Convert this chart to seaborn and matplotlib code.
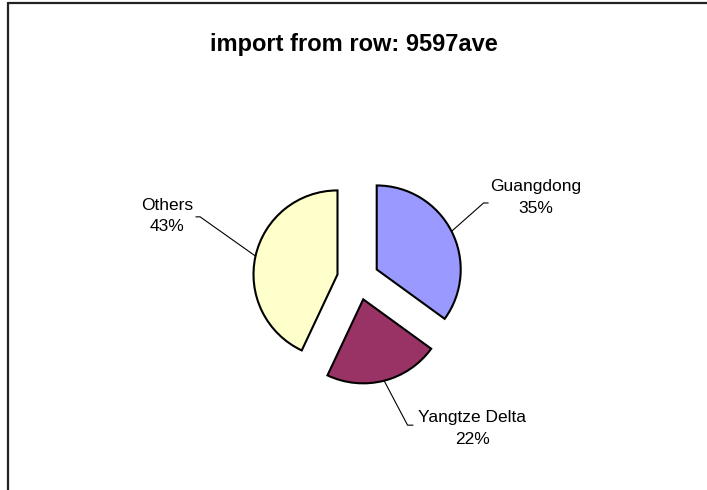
import matplotlib.pyplot as plt
import numpy as np
import seaborn as sns
from matplotlib.lines import Line2D

sns.set_theme(style="white")
plt.rcParams["font.family"] = ["Liberation Sans", "DejaVu Sans"]

# 数据
regions = ["Guangdong", "Yangtze Delta", "Others"]
shares = [35, 22, 43]
colors = ["#9999FF", "#993366", "#FFFFCC"]

# 标签位置 (以饼半径为单位) 与引线折点
label_pos = [(2.12, 0.97), (1.36, -1.78), (-2.27, 0.75)]
leader_end = [(1.55, 0.905), (0.655, -1.74), (-1.93, 0.74)]
elbow_dx = [-0.055, -0.065, 0.05]

fig = plt.figure(figsize=(7.07, 4.90), dpi=100)
ax = fig.add_axes([0, 0, 1, 1])

wedges, _ = ax.pie(
    shares,
    colors=colors,
    startangle=90,
    counterclock=False,
    explode=[0.25] * len(shares),
    wedgeprops={"edgecolor": "black", "linewidth": 1.5},
)

# 坐标: 半径 1 = 84 px, 圆心在 (358, 211) px
ax.set_aspect("auto")
ax.set_xlim(-358 / 84, (707 - 358) / 84)
ax.set_ylim(-211 / 84, (490 - 211) / 84)
ax.axis("off")

total = sum(shares)
for w, name, v, (tx, ty), (ex, ey), dx in zip(
    wedges, regions, shares, label_pos, leader_end, elbow_dx
):
    ang = np.deg2rad((w.theta1 + w.theta2) / 2)
    cx, cy = w.center
    px, py = cx + np.cos(ang), cy + np.sin(ang)
    ax.plot([px, ex + dx, ex], [py, ey, ey], color="black", lw=0.8,
            clip_on=False)
    ax.text(tx, ty, f"{name}\n{v / total * 100:.0f}%", ha="center",
            va="center", fontsize=12.5, linespacing=1.55, color="black")

fig.text(0.5, 1 - 45 / 490, "import from row: 9597ave", ha="center",
         va="center", fontsize=17, fontweight="bold", color="black")

# 外框 (左边和上边)
fig.add_artist(Line2D([8 / 707, 8 / 707], [0, 1 - 3 / 490], color="#222222",
                      lw=1.6, transform=fig.transFigure))
fig.add_artist(Line2D([8 / 707, 1], [1 - 3 / 490, 1 - 3 / 490],
                      color="#222222", lw=1.6, transform=fig.transFigure))

fig.savefig("out.png", dpi=100)
